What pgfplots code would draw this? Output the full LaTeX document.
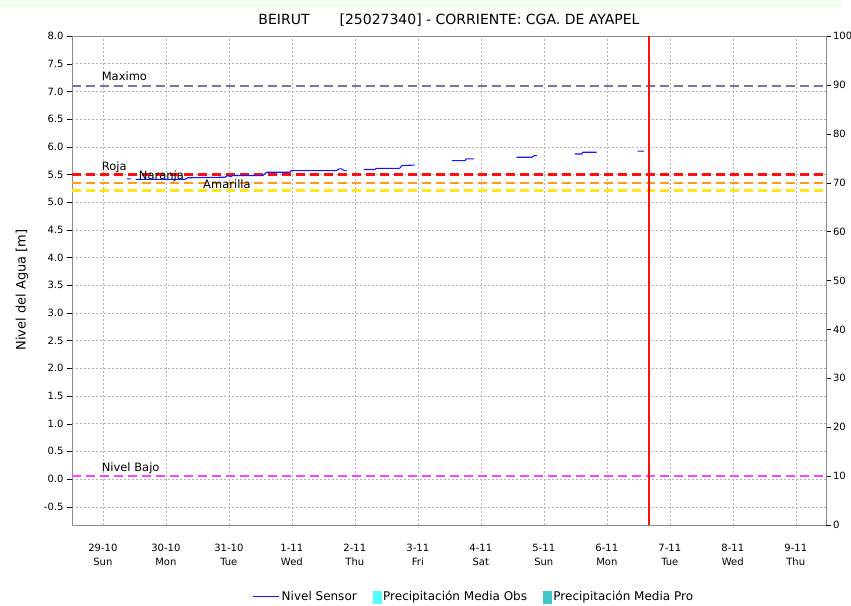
\documentclass[border=0pt]{standalone}
\usepackage{pgfplots}
\pgfplotsset{compat=1.18}
\usepackage{fontspec}
\setmainfont{DejaVu Sans}
\definecolor{maxc}{HTML}{6C7BA0}
\definecolor{naranja}{HTML}{FF9A1E}
\definecolor{amarilla}{HTML}{FFE81A}
\definecolor{bajo}{HTML}{FF44FF}
\definecolor{rojo}{HTML}{FF1010}
\definecolor{azul}{HTML}{1515FF}
\definecolor{obs}{HTML}{55FFFF}
\definecolor{pro}{HTML}{40C8C8}
\definecolor{gridc}{HTML}{B4B4B4}
\definecolor{axc}{HTML}{8C8C8C}
\begin{document}
\begin{tikzpicture}[x=1pt,y=1pt]
\path[use as bounding box] (0,0) rectangle (851,605);
\fill[green!6] (0,598) rectangle (842,605);
\node[rotate=90, font=\fontsize{13}{15}\selectfont] at (22,315) {Nivel del Agua [m]};
\begin{axis}[
  at={(72pt,80pt)}, anchor=south west,
  width=754pt, height=489pt, scale only axis,
  xmin=-0.49, xmax=11.48, ymin=-0.83, ymax=8.0,
  font=\fontsize{10}{14}\selectfont,
  /pgf/number format/assume math mode=true,
  axis line style={axc},
  grid=major,
  major grid style={gridc, dash pattern=on 1.5pt off 2.5pt},
  xtick={0,...,11},
  xticklabels={29-10\\Sun,30-10\\Mon,31-10\\Tue,1-11\\Wed,2-11\\Thu,3-11\\Fri,4-11\\Sat,5-11\\Sun,6-11\\Mon,7-11\\Tue,8-11\\Wed,9-11\\Thu},
  xticklabel style={align=center, yshift=-11pt},
  xtick style={draw=none},
  ytick={-0.5,0,...,8.0},
  yticklabel style={/pgf/number format/.cd, fixed, fixed zerofill, precision=1},
  ytick pos=left, tick align=outside, major tick length=5pt,
  ytick style={black},
  title={BEIRUT\hspace{30pt}[25027340] - CORRIENTE: CGA. DE AYAPEL},
  title style={at={(rel axis cs:0.5,1)}, anchor=center, yshift=10pt, font=\fontsize{14}{16}\selectfont},
  unbounded coords=jump,
  legend style={at={(rel axis cs:0.533,-0.147)}, anchor=center, draw=none, fill=none,
    font=\fontsize{12}{14}\selectfont,
    /tikz/every even column/.append style={column sep=14pt}},
  legend columns=-1,
  clip=true,
]
% thresholds
\addplot[draw=maxc, line width=2.2pt, dash pattern=on 9pt off 5pt, forget plot] coordinates {(-0.49,7.1)(11.48,7.1)};
\addplot[draw=amarilla, line width=2.2pt, dash pattern=on 9pt off 5pt, forget plot] coordinates {(-0.49,5.21)(11.48,5.21)};
\addplot[draw=naranja, line width=2.2pt, dash pattern=on 9pt off 5pt, forget plot] coordinates {(-0.49,5.35)(11.48,5.35)};
\addplot[draw=rojo, line width=2.2pt, dash pattern=on 9pt off 5pt, forget plot] coordinates {(-0.49,5.5)(11.48,5.5)};
\addplot[draw=bajo, line width=2.2pt, dash pattern=on 9pt off 5pt, forget plot] coordinates {(-0.49,0.05)(11.48,0.05)};
% red vertical now line
\addplot[draw=rojo, line width=1.3pt, forget plot] coordinates {(8.67,-0.83)(8.67,8.0)};
% sensor level
\addplot[draw=azul, line width=1.1pt, legend image code/.code={\draw[azul, line width=1pt] (-2pt,0pt) -- (24pt,0pt);}] coordinates {
(0.38,5.42)(0.45,5.42)(0.48,nan)
(0.52,5.41)(1.30,5.41)(1.35,5.44)(1.94,5.45)(1.98,5.48)(2.03,5.46)(2.06,5.48)(2.54,5.48)(2.60,5.54)(2.97,5.54)(2.99,5.57)(3.71,5.57)(3.75,5.60)(3.79,5.60)(3.83,5.57)(3.87,5.57)
(4.0,nan)
(4.14,5.59)(4.32,5.59)(4.34,5.61)(4.71,5.61)(4.75,5.66)(4.95,5.67)
(5.2,nan)
(5.54,5.75)(5.75,5.75)(5.77,5.78)(5.89,5.78)
(6.2,nan)
(6.57,5.81)(6.81,5.81)(6.85,5.84)(6.89,5.84)
(7.2,nan)
(7.49,5.87)(7.60,5.87)(7.62,5.90)(7.84,5.90)
(8.2,nan)
(8.49,5.92)(8.59,5.92)
};
\addlegendentry{Nivel Sensor}
\addlegendimage{legend image code/.code={\fill[obs] (0pt,-6pt) rectangle (8pt,6pt);}}
\addlegendentry{Precipitación Media Obs}
\addlegendimage{legend image code/.code={\fill[pro] (0pt,-6pt) rectangle (8pt,6pt);}}
\addlegendentry{Precipitación Media Pro}
% labels
\node[anchor=west, inner sep=0pt, font=\fontsize{11.5}{14}\selectfont] at (axis cs:-0.02,7.27) {Maximo};
\node[anchor=west, inner sep=0pt, font=\fontsize{11.5}{14}\selectfont] at (axis cs:-0.02,5.63) {Roja};
\node[anchor=west, inner sep=0pt, font=\fontsize{11.5}{14}\selectfont] at (axis cs:0.57,5.47) {Naranja};
\node[anchor=west, inner sep=0pt, font=\fontsize{11.5}{14}\selectfont] at (axis cs:1.59,5.32) {Amarilla};
\node[anchor=west, inner sep=0pt, font=\fontsize{11.5}{14}\selectfont] at (axis cs:-0.02,0.19) {Nivel Bajo};
\draw[black!80, dash pattern=on 1pt off 1pt] (rel axis cs:0,0) -- (rel axis cs:1,0);
\end{axis}
\begin{axis}[
  at={(72pt,80pt)}, anchor=south west,
  width=754pt, height=489pt, scale only axis,
  xmin=-0.49, xmax=11.48, ymin=0, ymax=100,
  font=\fontsize{10}{14}\selectfont,
  /pgf/number format/assume math mode=true,
  axis y line*=right, axis x line=none,
  axis line style={axc},
  ytick={0,10,...,100},
  yticklabel style={xshift=-1.5pt},
  tick align=outside, major tick length=5pt,
  ytick style={black},
]
\end{axis}
\end{tikzpicture}
\end{document}
